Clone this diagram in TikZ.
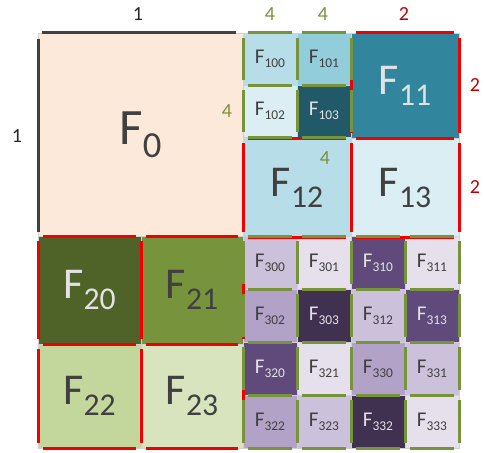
\documentclass[tikz,border=0pt]{standalone}
\usepackage{fontspec}
\setmainfont{Carlito}
\usepackage{xcolor}
\usepackage{tikz}
\usetikzlibrary{positioning}

\definecolor{peach}{HTML}{FDE9D9}
\definecolor{blueA}{HTML}{B7DEE8}
\definecolor{blueB}{HTML}{92CDDC}
\definecolor{blueC}{HTML}{DAEEF3}
\definecolor{tealA}{HTML}{215968}
\definecolor{tealB}{HTML}{31859C}
\definecolor{oliveA}{HTML}{4F6228}
\definecolor{oliveB}{HTML}{77933C}
\definecolor{oliveC}{HTML}{C3D69B}
\definecolor{oliveD}{HTML}{D7E4BD}
\definecolor{lavA}{HTML}{E6E0EC}
\definecolor{lavB}{HTML}{CCC1DA}
\definecolor{lavC}{HTML}{B3A2C7}
\definecolor{plumA}{HTML}{604A7B}
\definecolor{plumB}{HTML}{403151}
\definecolor{darktxt}{HTML}{404040}
\definecolor{lighttxt}{HTML}{E2E2E2}
\definecolor{lvlred}{HTML}{F00000}
\definecolor{lblred}{HTML}{C00000}

\newcommand{\dn}[1]{\raisebox{-0.25em}{\scalebox{0.72}{#1}}}
\newcommand{\sdn}[1]{\raisebox{-0.2em}{\scalebox{0.64}{#1}}}

\begin{document}
\begin{tikzpicture}[x=1pt, y=-1pt,
    cell/.style={draw=gray!35, line width=0.8pt, inner sep=0pt, outer sep=0pt, anchor=north west, text=darktxt},
    huge/.style={cell, minimum width=205pt, minimum height=203pt, font=\fontsize{51}{51}\selectfont},
    big/.style={cell, font=\fontsize{44}{44}\selectfont},
    small/.style={cell, minimum width=54pt, minimum height=53pt, font=\fontsize{21}{21}\selectfont},
    tiny/.style={cell, minimum width=54pt, minimum height=52pt, font=\fontsize{21}{21}\selectfont},
    lbl/.style={font=\fontsize{20}{20}\selectfont},
    redge/.style={draw=lvlred, line width=3pt},
    gedge/.style={draw=oliveB, line width=3pt},
    kedge/.style={draw=darktxt, line width=3pt}
]
    \useasboundingbox (0,0) rectangle (484,452);

    % Level 0
    \node[huge, fill=peach] (f0) at (38,33) {F\dn{0}};

    % Level 1 and 2, top right
    \node[tiny, fill=blueA] (f100) at (243,33) {F\sdn{100}};
    \node[tiny, fill=blueB] (f101) at (297,33) {F\sdn{101}};
    \node[tiny, fill=blueC] (f102) at (243,85) {F\sdn{102}};
    \node[tiny, fill=tealA, text=lighttxt] (f103) at (297,85) {F\sdn{103}};
    \node[big, fill=tealB, text=lighttxt, minimum width=108pt, minimum height=105pt] (f11) at (351,33) {F\dn{11}};
    \node[big, fill=blueA, minimum width=108pt, minimum height=99pt] (f12) at (243,138) {F\dn{12}};
    \node[big, fill=blueC, minimum width=108pt, minimum height=99pt] (f13) at (351,138) {F\dn{13}};

    % Level 1, bottom left
    \node[big, fill=oliveA, text=lighttxt, minimum width=103pt, minimum height=108pt] (f20) at (38,236) {F\dn{20}};
    \node[big, fill=oliveB, minimum width=102pt, minimum height=108pt] (f21) at (141,236) {F\dn{21}};
    \node[big, fill=oliveC, minimum width=103pt, minimum height=104pt] (f22) at (38,344) {F\dn{22}};
    \node[big, fill=oliveD, minimum width=102pt, minimum height=104pt] (f23) at (141,344) {F\dn{23}};

    % Level 2, bottom right
    \node[small, fill=lavB] (f300) at (243,236) {F\sdn{300}};
    \node[small, fill=lavA] (f301) at (297,236) {F\sdn{301}};
    \node[small, fill=plumA, text=lighttxt] (f310) at (351,236) {F\sdn{310}};
    \node[small, fill=lavA] (f311) at (405,236) {F\sdn{311}};
    \node[small, fill=lavC] (f302) at (243,289) {F\sdn{302}};
    \node[small, fill=plumB, text=lighttxt] (f303) at (297,289) {F\sdn{303}};
    \node[small, fill=lavB] (f312) at (351,289) {F\sdn{312}};
    \node[small, fill=plumA, text=lighttxt] (f313) at (405,289) {F\sdn{313}};
    \node[small, fill=plumA, text=lighttxt] (f320) at (243,342) {F\sdn{320}};
    \node[small, fill=lavA] (f321) at (297,342) {F\sdn{321}};
    \node[small, fill=lavC] (f330) at (351,342) {F\sdn{330}};
    \node[small, fill=lavB] (f331) at (405,342) {F\sdn{331}};
    \node[small, fill=lavC] (f322) at (243,395) {F\sdn{322}};
    \node[small, fill=lavB] (f323) at (297,395) {F\sdn{323}};
    \node[small, fill=plumB, text=lighttxt] (f332) at (351,395) {F\sdn{332}};
    \node[small, fill=lavA] (f333) at (405,395) {F\sdn{333}};

    % Edge marks
    \draw[kedge] ([xshift=4pt]f0.north west) -- ([xshift=-7pt]f0.north east);
    \draw[kedge] ([yshift=-6pt]f0.north west) -- ([yshift=4pt]f0.south west);
    \foreach \c in {f11,f12,f13,f20,f21,f22,f23}
        \draw[redge] ([xshift=5pt]\c.north west) -- ([xshift=-5pt]\c.north east)
            ([yshift=-5pt]\c.north east) -- ([yshift=5pt]\c.south east)
            ([xshift=-5pt]\c.south east) -- ([xshift=5pt]\c.south west)
            ([yshift=5pt]\c.south west) -- ([yshift=-5pt]\c.north west);
    \foreach \c in {f100,f101,f102,f103,f300,f301,f302,f303,f310,f311,f312,f313,
                    f320,f321,f322,f323,f330,f331,f332,f333}
        \draw[gedge] ([xshift=5pt]\c.north west) -- ([xshift=-5pt]\c.north east)
            ([yshift=-5pt]\c.north east) -- ([yshift=5pt]\c.south east)
            ([xshift=-5pt]\c.south east) -- ([xshift=5pt]\c.south west)
            ([yshift=5pt]\c.south west) -- ([yshift=-5pt]\c.north west);

    % Counts
    \node[lbl, text=black!85] (top0) at (138,14) {1};
    \node[lbl, text=black!85] (left0) at (17,136) {1};
    \node[lbl, text=oliveB] (top100) at (270,14) {4};
    \node[lbl, text=oliveB] (top101) at (323,14) {4};
    \node[lbl, text=lblred] (top11) at (404,14) {2};
    \node[lbl, text=lblred] (side11) at (475,85) {2};
    \node[lbl, text=lblred] (side13) at (475,187) {2};
    \node[lbl, text=oliveB] (in0) at (227,111) {4};
    \node[lbl, text=oliveB] (in12) at (325,158) {4};
\end{tikzpicture}
\end{document}
